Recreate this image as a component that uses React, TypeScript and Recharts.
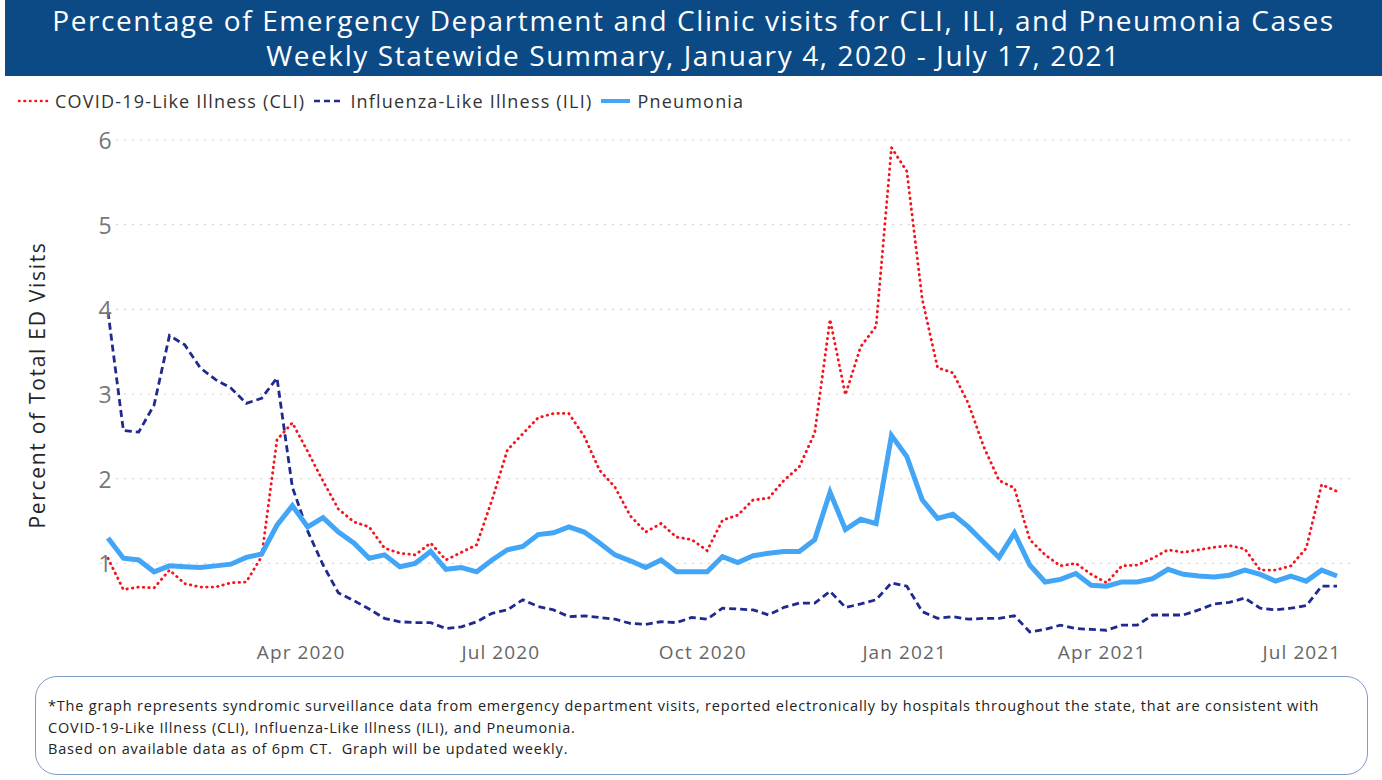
import React from 'react';
import { LineChart, Line, XAxis, YAxis, CartesianGrid } from 'recharts';

// weekly values, first week ending Jan 4 2020
const cli = [
  1.06, 0.69, 0.72, 0.71, 0.92, 0.76, 0.72, 0.72, 0.77, 0.78, 1.08, 2.46, 2.66, 2.32, 1.97, 1.64,
  1.49, 1.43, 1.18, 1.12, 1.1, 1.24, 1.04, 1.13, 1.22, 1.75, 2.34, 2.53, 2.72, 2.77, 2.77, 2.5,
  2.1, 1.9, 1.56, 1.37, 1.47, 1.31, 1.28, 1.15, 1.51, 1.57, 1.75, 1.77, 1.98, 2.14, 2.54, 3.88,
  2.99, 3.56, 3.8, 5.91, 5.63, 4.12, 3.31, 3.25, 2.89, 2.38, 1.98, 1.89, 1.28, 1.1, 0.97, 1.0,
  0.87, 0.77, 0.97, 0.98, 1.06, 1.16, 1.13, 1.16, 1.19, 1.21, 1.17, 0.92, 0.92, 0.97, 1.18, 1.93,
  1.85,
];

const ili = [
  3.97, 2.57, 2.55, 2.87, 3.69, 3.58, 3.31, 3.17, 3.07, 2.89, 2.95, 3.19, 1.9, 1.38, 0.98, 0.65,
  0.56, 0.46, 0.35, 0.31, 0.3, 0.3, 0.23, 0.25, 0.31, 0.41, 0.45, 0.57, 0.49, 0.45, 0.37, 0.38,
  0.36, 0.34, 0.29, 0.28, 0.31, 0.3, 0.36, 0.34, 0.47, 0.46, 0.45, 0.39, 0.48, 0.53, 0.53, 0.67,
  0.48, 0.52, 0.57, 0.77, 0.73, 0.43, 0.35, 0.37, 0.34, 0.35, 0.35, 0.38, 0.19, 0.22, 0.27, 0.23,
  0.22, 0.21, 0.27, 0.27, 0.39, 0.39, 0.39, 0.45, 0.52, 0.54, 0.59, 0.47, 0.45, 0.47, 0.5, 0.73,
  0.73,
];

const pneumonia = [
  1.3, 1.06, 1.04, 0.9, 0.97, 0.96, 0.95, 0.97, 0.99, 1.07, 1.11, 1.45, 1.68, 1.43, 1.54, 1.37,
  1.24, 1.06, 1.1, 0.96, 1.0, 1.14, 0.93, 0.95, 0.9, 1.04, 1.16, 1.2, 1.34, 1.36, 1.43, 1.37,
  1.24, 1.1, 1.03, 0.95, 1.04, 0.9, 0.9, 0.9, 1.08, 1.01, 1.09, 1.12, 1.14, 1.14, 1.28, 1.84,
  1.4, 1.52, 1.47, 2.51, 2.26, 1.75, 1.53, 1.58, 1.43, 1.25, 1.07, 1.36, 0.98, 0.78, 0.81, 0.88,
  0.74, 0.73, 0.78, 0.78, 0.82, 0.93, 0.87, 0.85, 0.84, 0.86, 0.92, 0.87, 0.79, 0.85, 0.79, 0.92,
  0.85,
];

const monthDates = ['2020-04-01', '2020-07-01', '2020-10-01', '2021-01-01', '2021-04-01', '2021-07-01'];
const monthLabels = ['Apr 2020', 'Jul 2020', 'Oct 2020', 'Jan 2021', 'Apr 2021', 'Jul 2021'];
const yTicks = [1, 2, 3, 4, 5, 6];

const START = Date.UTC(2020, 0, 4);
const DAY = 86400000;
const tickDays = monthDates.map((d) => (Date.parse(d) - START) / DAY);

const data = cli.map((v, i) => ({ day: i * 7, cli: v, ili: ili[i], pneumonia: pneumonia[i] }));

const FONT = '"Open Sans", "Noto Sans", sans-serif';
const RED = '#f5141b';
const NAVY = '#1f2a8f';
const LIGHT = '#42a5f5';

const XTick = (props: any) => {
  const idx = tickDays.indexOf(props.payload.value);
  return (
    <text x={props.x} y={652} textAnchor="middle" dominantBaseline="central" fontSize={19} letterSpacing={1.1} fill="#666" fontFamily={FONT}>
      {monthLabels[idx]}
    </text>
  );
};

const YTick = (props: any) => (
  <text x={105} y={props.y} textAnchor="middle" dominantBaseline="central" fontSize={23} fill="#777" fontFamily={FONT}>
    {props.payload.value}
  </text>
);

const legendItems = [
  { label: 'COVID-19-Like Illness (CLI)', color: RED, dash: '0.5 5', width: 2.6, cap: 'round' },
  { label: 'Influenza-Like Illness (ILI)', color: NAVY, dash: '6 4', width: 2.6, cap: 'butt' },
  { label: 'Pneumonia', color: LIGHT, dash: undefined, width: 4, cap: 'butt' },
];

export default function App() {
  return (
    <div style={{ position: 'absolute', left: 0, top: 0, width: 1382, height: 780, background: '#fff', fontFamily: FONT }}>
      <div
        style={{
          position: 'absolute', left: 5, top: 0, width: 1377, height: 76, background: '#0c4a86', color: '#fff',
          textAlign: 'center', fontSize: 28, letterSpacing: 1.6, lineHeight: '35px', paddingTop: 3, boxSizing: 'border-box',
        }}
      >
        <div>Percentage of Emergency Department and Clinic visits for CLI, ILI, and Pneumonia Cases</div>
        <div>Weekly Statewide Summary, January 4, 2020 - July 17, 2021</div>
      </div>

      <div style={{ position: 'absolute', left: 17, top: 89, display: 'flex', alignItems: 'center', fontSize: 18, letterSpacing: 1.2, color: '#333' }}>
        {legendItems.map((it) => (
          <div key={it.label} style={{ display: 'flex', alignItems: 'center', marginRight: 7 }}>
            <svg width={32} height={20} style={{ marginRight: 6 }}>
              <line x1={2} y1={10} x2={31} y2={10} stroke={it.color} strokeWidth={it.width} strokeDasharray={it.dash} strokeLinecap={it.cap as any} />
            </svg>
            <span>{it.label}</span>
          </div>
        ))}
      </div>

      <div
        style={{
          position: 'absolute', left: 37, top: 385, transform: 'translate(-50%, -50%) rotate(-90deg)',
          whiteSpace: 'nowrap', fontSize: 21, letterSpacing: 1.7, color: '#252525',
        }}
      >
        Percent of Total ED Visits
      </div>

      <div style={{ position: 'absolute', left: 0, top: 0 }}>
        <LineChart width={1382} height={780} data={data} margin={{ top: 140, right: 32, bottom: 102, left: 40 }}>
          <CartesianGrid vertical={false} horizontalValues={yTicks} stroke="#cfcfcf" strokeDasharray="2 6" />
          <XAxis
            dataKey="day"
            type="number"
            domain={[0, 560]}
            ticks={tickDays}
            tick={<XTick />}
            axisLine={false}
            tickLine={false}
            height={30}
            padding={{ left: 8, right: 13 }}
          />
          <YAxis domain={[0, 6]} ticks={yTicks} tick={<YTick />} axisLine={false} tickLine={false} width={60} />
          <Line type="linear" dataKey="cli" stroke={RED} strokeWidth={2.8} strokeDasharray="0.5 5" strokeLinecap="round" dot={false} isAnimationActive={false} />
          <Line type="linear" dataKey="ili" stroke={NAVY} strokeWidth={2.8} strokeDasharray="7 4" dot={false} isAnimationActive={false} />
          <Line type="linear" dataKey="pneumonia" stroke={LIGHT} strokeWidth={5} dot={false} isAnimationActive={false} />
        </LineChart>
      </div>

      <div
        style={{
          position: 'absolute', left: 35, top: 676, width: 1333, height: 99, boxSizing: 'border-box',
          border: '1px solid #7f9cc4', borderRadius: 22, padding: '18px 12px 0', fontSize: 14.5, letterSpacing: 0.8,
          lineHeight: '21.5px', color: '#222',
        }}
      >
        <div>*The graph represents syndromic surveillance data from emergency department visits, reported electronically by hospitals throughout the state, that are consistent with</div>
        <div>COVID-19-Like Illness (CLI), Influenza-Like Illness (ILI), and Pneumonia.</div>
        <div>Based on available data as of 6pm CT.&nbsp; Graph will be updated weekly.</div>
      </div>
    </div>
  );
}
